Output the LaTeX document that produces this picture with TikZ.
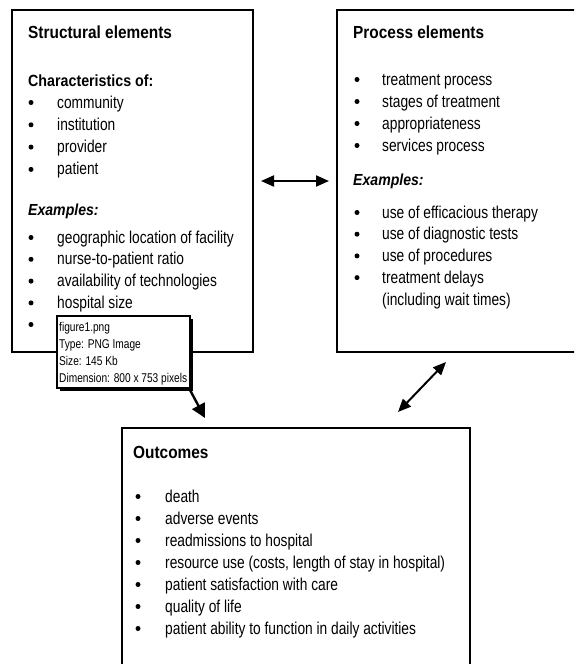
\documentclass[tikz,border=0pt]{standalone}
\usepackage{fontspec}
\setmainfont{Liberation Sans}[FakeStretch=0.88]
\newfontfamily\narrowsans{Liberation Sans}[FakeStretch=0.8]
\usetikzlibrary{arrows.meta,shadows}
\begin{document}
\begin{tikzpicture}[x=1pt,y=-1pt,
  panel/.style={draw, line width=2.8pt, anchor=north west, inner sep=0pt, outer sep=0pt},
  title/.style={font=\fontsize{17.5}{20}\selectfont\bfseries, anchor=base west, inner sep=0pt},
  subhead/.style={font=\fontsize{16.2}{19}\selectfont\bfseries, anchor=base west, inner sep=0pt},
  exhead/.style={font=\fontsize{16}{19}\selectfont\bfseries\itshape, anchor=base west, inner sep=0pt},
  entry/.style={font=\narrowsans\fontsize{17.2}{20}\selectfont, anchor=base west, inner sep=0pt},
  tiptext/.style={font=\narrowsans\fontsize{12.7}{15}\selectfont, anchor=base west, inner sep=0pt},
  dot/.style={circle, fill, inner sep=0pt, minimum size=5pt},
  tipbox/.style={draw, fill=white, line width=1.8pt, anchor=north west, inner sep=0pt,
    drop shadow={shadow xshift=2.6pt, shadow yshift=-2.6pt, fill=black, opacity=1}},
  link/.style={line width=2pt, {Triangle[length=13pt,width=11pt]}-{Triangle[length=13pt,width=11pt]}},
  onelink/.style={line width=2.4pt, -{Triangle[length=14pt,width=14pt]}}]
\clip (0,0) rectangle (574,664);
\fill[white] (0,0) rectangle (574,664);

% ---- structural elements ----
\node[panel, minimum width=241pt, minimum height=342pt] (struct) at (12,10) {};
\node[title] (st) at (28,38) {Structural elements};
\node[subhead] (sc) at (28,86) {Characteristics of:};
\foreach \t [count=\i] in {community, institution, provider, patient} {
  \node[entry] (sa\i) at (57,{108+22.3*(\i-1)}) {\t};
  \node[dot] (sad\i) at (31,{102.5+22.3*(\i-1)}) {};
}
\node[exhead] (sx) at (28,215) {Examples:};
\foreach \t [count=\i] in {geographic location of facility, nurse-to-patient ratio,
    availability of technologies, hospital size} {
  \node[entry] (sb\i) at (57,{243+21.8*(\i-1)}) {\t};
  \node[dot] (sbd\i) at (31,{237.5+21.8*(\i-1)}) {};
}
\node[dot] (sbd5) at (31,324.5) {};

% ---- file information pop-up ----
\node[tipbox, minimum width=133pt, minimum height=72pt] (tip) at (56,315) {};
\node[tiptext] (t1) at (59,331) {figure1.png};
\node[tiptext] (t2) at (59,348) {Type: PNG Image};
\node[tiptext] (t3) at (59,365) {Size: 145 Kb};
\node[tiptext] (t4) at (59,382) {Dimension: 800 x 753 pixels};

% ---- process elements ----
\node[panel, minimum width=280pt, minimum height=342pt] (proc) at (337,10) {};
\node[title] (pt) at (353,38) {Process elements};
\foreach \t [count=\i] in {treatment process, stages of treatment, appropriateness, services process} {
  \node[entry] (pa\i) at (382,{85+22*(\i-1)}) {\t};
  \node[dot] (pad\i) at (357,{79.5+22*(\i-1)}) {};
}
\node[exhead] (px) at (353,185) {Examples:};
\foreach \t [count=\i] in {use of efficacious therapy, use of diagnostic tests,
    use of procedures, treatment delays} {
  \node[entry] (pb\i) at (382,{218+21.7*(\i-1)}) {\t};
  \node[dot] (pbd\i) at (357,{212.5+21.7*(\i-1)}) {};
}
\node[entry] (pb5) at (382,305) {(including wait times)};

% ---- outcomes ----
\node[panel, minimum width=348pt, minimum height=280pt] (outc) at (122,428) {};
\node[title] (ot) at (133,458) {Outcomes};
\foreach \t [count=\i] in {death, adverse events, readmissions to hospital,
    {resource use (costs, length of stay in hospital)}, patient satisfaction with care,
    quality of life, patient ability to function in daily activities} {
  \node[entry] (oa\i) at (165,{502+22*(\i-1)}) {\t};
  \node[dot] (oad\i) at (138,{496.5+22*(\i-1)}) {};
}

% ---- connectors ----
\coordinate (tipfoot) at (190,390);
\coordinate (outtop) at (205,418);
\coordinate (procfoot) at (446,362);
\coordinate (outtopr) at (398,412);
\draw[link, shorten <=8pt, shorten >=8pt] (struct.east) -- (proc.west);
\draw[onelink] (tipfoot) -- (outtop);
\draw[link] (procfoot) -- (outtopr);
\end{tikzpicture}
\end{document}
